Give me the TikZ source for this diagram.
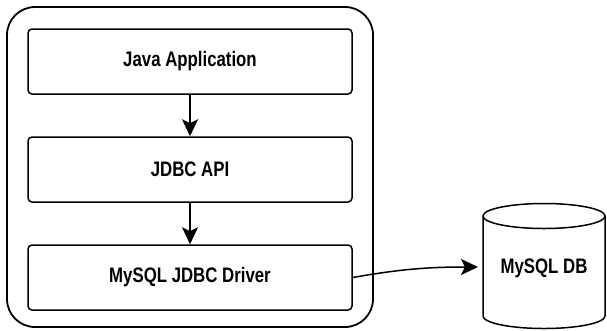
\documentclass[tikz,border=0pt]{standalone}
\usepackage{fontspec}
\setmainfont{Liberation Sans}[FakeStretch=0.8]
\usepackage{tikz}
\usetikzlibrary{arrows.meta}

\tikzset{
  layer/.style={draw,line width=1.5pt,rounded corners=4pt,minimum width=324pt,minimum height=65pt,font=\fontsize{21}{23}\selectfont\bfseries},
  flow/.style={-{Stealth[length=17pt,width=16pt,inset=4pt]},line width=1.5pt}
}

\begin{document}
\begin{tikzpicture}[line cap=round,line join=round,x=1pt,y=1pt]
\useasboundingbox (0,0) rectangle (607,-330);
\draw [line width=1.8pt,rounded corners=28pt] (7,-7) rectangle (373,-327);
\node[layer] (app) at (190,-61.5) {Java Application};
\node[layer] (api) at (190,-169.5) {JDBC API};
\node[layer] (driver) at (190,-277.5) {MySQL JDBC Driver};
\draw [line width=1.5pt] (483,-216) -- (483,-316) arc (180:360:61 and 12.5) -- (605,-216);
\draw [line width=1.5pt] (544,-216) ellipse (61 and 12.5);
\node[font=\fontsize{21}{23}\selectfont\bfseries] (db) at (544,-268) {MySQL DB};
\coordinate (dbin) at (478,-267);
\draw [flow] (app) -- (api);
\draw [flow] (api) -- (driver);
\draw [flow] (driver.east) to[out=10,in=180] (dbin);
\end{tikzpicture}
\end{document}
